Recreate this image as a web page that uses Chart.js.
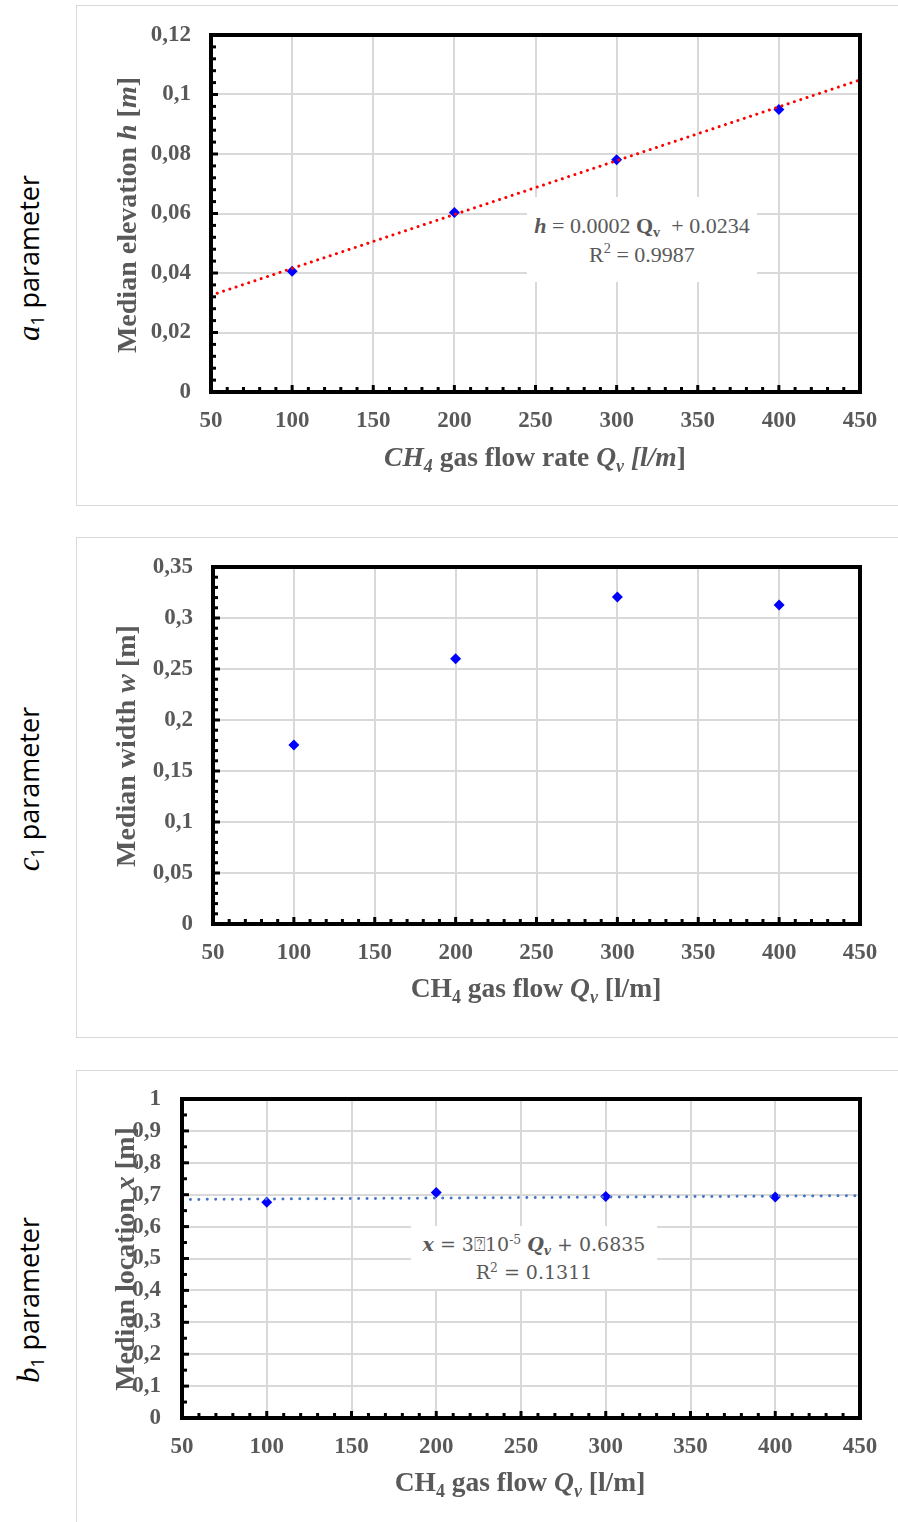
<!DOCTYPE html>
<html lang="en">
<head>
<meta charset="UTF-8">
<title>Median parameters vs CH4 gas flow</title>
<script src="https://cdn.jsdelivr.net/npm/chart.js@4.4.1/dist/chart.umd.min.js"></script>
<style>
  body { margin: 0; background: #fff; }
  #page { position: relative; width: 898px; height: 1522px; overflow: hidden; }
  .frame { position: absolute; left: 76px; width: 840px; border: 1px solid #d9d9d9; box-sizing: border-box; }
  canvas { position: absolute; left: 77px; }
  .txt { position: absolute; white-space: nowrap; color: #595959; font-family: "Liberation Serif", serif;
         font-weight: bold; font-size: 27.5px; line-height: 1; transform: translate(-50%, -50%); }
  .rot { transform: translate(-50%, -50%) rotate(-90deg); font-size: 28px; }
  .side { position: absolute; white-space: nowrap; color: #000; font-family: "Open Sans", sans-serif;
          font-size: 27px; line-height: 1; transform: translate(-50%, -50%) rotate(-90deg); }
  .side i { font-family: "Liberation Serif", serif; font-size: 31px; }
  .eq { position: absolute; background: #fff; color: #595959; text-align: center; white-space: nowrap;
        display: flex; flex-direction: column; justify-content: center; }
  sub { font-size: 0.65em; vertical-align: -0.3em; line-height: 0; }
  sup { font-size: 0.65em; vertical-align: 0.6em; line-height: 0; }
</style>
</head>
<body>
<div id="page">
  <div class="frame" style="top:5px;height:501px"></div>
  <div class="frame" style="top:537px;height:501px"></div>
  <div class="frame" style="top:1070px;height:500px"></div>

  <canvas id="chartH" width="821" height="498" style="top:6px"></canvas>
  <canvas id="chartW" width="821" height="498" style="top:538px"></canvas>
  <canvas id="chartX" width="821" height="451" style="top:1071px"></canvas>

  <div class="side" style="left:28px;top:258px"><i>a</i><sub>1</sub> parameter</div>
  <div class="side" style="left:28px;top:789px"><i>c</i><sub>1</sub> parameter</div>
  <div class="side" style="left:28px;top:1300px"><i>b</i><sub>1</sub> parameter</div>

  <div class="txt rot" style="left:127px;top:215px">Median elevation <i>h</i> [<i>m</i>]</div>
  <div class="txt" style="left:535px;top:457px"><i>CH<sub>4</sub></i> gas flow rate <i>Q<sub>v</sub> [l/m</i>]</div>
  <div class="eq" style="left:527px;top:197px;width:230px;height:85px;font:22px/29px 'Liberation Serif',serif">
    <div><b><i>h</i></b> = 0.0002 <b>Q<sub>v</sub></b>&nbsp; + 0.0234</div>
    <div>R<sup>2</sup> = 0.9987</div>
  </div>

  <div class="txt rot" style="left:126px;top:746px">Median width <i>w</i> [m]</div>
  <div class="txt" style="left:536px;top:988px">CH<sub>4</sub> gas flow <i>Q<sub>v</sub></i> [l/m]</div>

  <div class="txt rot" style="left:125px;top:1259px">Median location <i>x</i> [m]</div>
  <div class="txt" style="left:520px;top:1482px">CH<sub>4</sub> gas flow <i>Q<sub>v</sub></i> [l/m]</div>
  <div class="eq" style="left:411px;top:1226px;width:246px;height:63px;font:19px/28px 'DejaVu Serif',serif">
    <div><b><i>x</i></b> = 3⍰10<sup>-5</sup> <b><i>Q<sub>v</sub></i></b> + 0.6835</div>
    <div>R<sup>2</sup> = 0.1311</div>
  </div>
</div>

<script>
  // gas flow rate Qv [l/m] at which the medians were measured
  var flowQ = [100, 200, 300, 400];
  var elevationH = [0.0406, 0.0603, 0.0781, 0.0950];
  var widthW = [0.1755, 0.2600, 0.3206, 0.3127];
  var locationX = [0.676, 0.707, 0.694, 0.693];

  // trend line ends as drawn in the picture
  var trendQ = [50, 450];
  var trendH = [0.0325, 0.1049];
  var trendX = [0.685, 0.697];

  var qTickLabels = ['50', '100', '150', '200', '250', '300', '350', '400', '450'];
  var hTickLabels = ['0', '0,02', '0,04', '0,06', '0,08', '0,1', '0,12'];
  var wTickLabels = ['0', '0,05', '0,1', '0,15', '0,2', '0,25', '0,3', '0,35'];
  var xTickLabels = ['0', '0,1', '0,2', '0,3', '0,4', '0,5', '0,6', '0,7', '0,8', '0,9', '1'];

  var tickFont = { family: '"Liberation Serif", serif', size: 23, weight: 'bold' };

  // thick black frame with small inward ticks, like the Excel plot area
  var frameTicks = {
    id: 'frameTicks',
    afterDraw: function(chart, args, opts) {
      var ctx = chart.ctx, a = chart.chartArea, x = chart.scales.x, y = chart.scales.y;
      ctx.save();
      ctx.strokeStyle = '#000';
      ctx.lineWidth = 3;
      var n = Math.round((x.max - x.min) / opts.xMinor);
      for (var i = 0; i <= n; i++) {
        var px = x.getPixelForValue(x.min + i * opts.xMinor);
        var len = (i % opts.xEvery === 0) ? 7 : 5;
        ctx.beginPath(); ctx.moveTo(px, a.bottom); ctx.lineTo(px, a.bottom - len); ctx.stroke();
      }
      n = Math.round((y.max - y.min) / opts.yMinor);
      for (var j = 0; j <= n; j++) {
        var py = y.getPixelForValue(y.min + j * opts.yMinor);
        var l2 = (j % opts.yEvery === 0) ? 7 : 5;
        ctx.beginPath(); ctx.moveTo(a.left, py); ctx.lineTo(a.left + l2, py); ctx.stroke();
      }
      ctx.lineWidth = 4;
      ctx.strokeRect(a.left, a.top, a.right - a.left, a.bottom - a.top);
      ctx.restore();
    }
  };

  function makeChart(id, c) {
    var datasets = [{
      data: flowQ.map(function(q, i) { return { x: q, y: c.values[i] }; }),
      pointStyle: 'rectRot',
      pointRadius: 5.5,
      backgroundColor: '#0000ff',
      borderColor: '#0000ff',
      borderWidth: 0,
      showLine: false,
      order: 1
    }];
    if (c.trend) {
      datasets.push({
        data: trendQ.map(function(q, i) { return { x: q, y: c.trend[i] }; }),
        showLine: true,
        pointRadius: 0,
        borderColor: c.trendColor,
        borderWidth: 3,
        borderDash: [0.01, c.trendGap],
        borderCapStyle: 'round',
        order: 0
      });
    }

    return new Chart(document.getElementById(id), {
      type: 'scatter',
      data: { datasets: datasets },
      options: {
        responsive: false,
        animation: false,
        layout: { padding: { top: c.top, right: 38, left: 0, bottom: 0 } },
        plugins: {
          legend: { display: false },
          tooltip: { enabled: false },
          frameTicks: { xMinor: 10, xEvery: 5, yMinor: c.yMinor, yEvery: c.yEvery }
        },
        scales: {
          x: {
            type: 'linear', min: 50, max: 450,
            grid: { color: '#d9d9d9', lineWidth: 2, drawTicks: false },
            border: { display: false },
            ticks: {
              stepSize: 50, autoSkip: false, maxRotation: 0, padding: 15,
              color: '#595959', font: tickFont,
              callback: function(v, i) { return qTickLabels[i]; }
            },
            afterFit: function(s) { s.height = c.xAxisH; s.paddingLeft = 0; s.paddingRight = 0; }
          },
          y: {
            min: 0, max: c.yMax,
            grid: { color: '#d9d9d9', lineWidth: 2, drawTicks: false },
            border: { display: false },
            ticks: {
              stepSize: c.yStep, autoSkip: false, padding: c.tickPad,
              color: '#595959', font: tickFont,
              callback: function(v, i) { return c.yLabels[i]; }
            },
            afterFit: function(s) { s.width = c.yAxisW; s.paddingTop = 0; s.paddingBottom = 0; }
          }
        }
      },
      plugins: [frameTicks]
    });
  }

  makeChart('chartH', {
    values: elevationH, trend: trendH, trendColor: '#ff0000', trendGap: 6.6,
    yMax: 0.12, yStep: 0.02, yLabels: hTickLabels, yMinor: 0.004, yEvery: 5,
    yAxisW: 134, top: 29, xAxisH: 112, tickPad: 20
  });

  makeChart('chartW', {
    values: widthW, trend: null,
    yMax: 0.35, yStep: 0.05, yLabels: wTickLabels, yMinor: 0.01, yEvery: 5,
    yAxisW: 136, top: 29, xAxisH: 112, tickPad: 20
  });

  makeChart('chartX', {
    values: locationX, trend: trendX, trendColor: '#4472c4', trendGap: 8.4,
    yMax: 1, yStep: 0.1, yLabels: xTickLabels, yMinor: 0.05, yEvery: 2,
    yAxisW: 105, top: 28, xAxisH: 104, tickPad: 21
  });
</script>
</body>
</html>
